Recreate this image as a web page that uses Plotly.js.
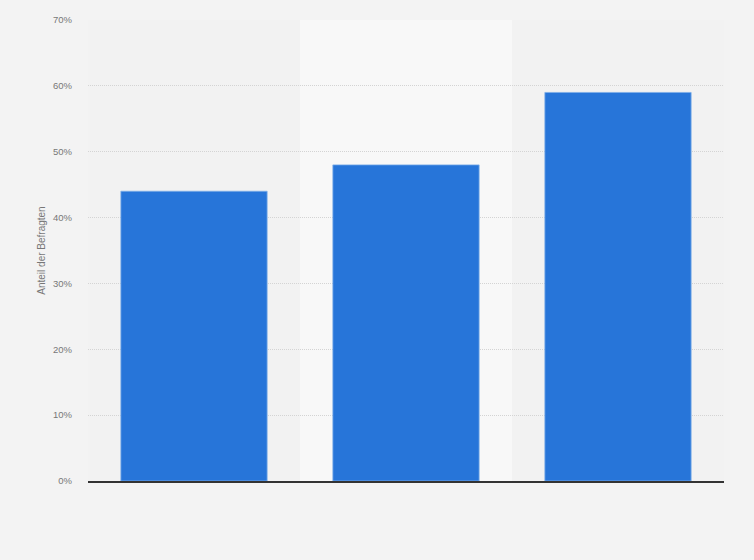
<!DOCTYPE html>
<html>
<head>
<meta charset="utf-8">
<script src="https://cdn.plot.ly/plotly-3.0.1.min.js"></script>
<style>
  html, body { margin: 0; padding: 0; background: #f3f3f3; }
  #chart { width: 754px; height: 560px; }
</style>
</head>
<body>
<div id="chart"></div>
<script>
'use strict';

// categories are not labelled in the picture, so the tick labels stay hidden
var categories = ['Gruppe 1', 'Gruppe 2', 'Gruppe 3'];
var shares = [44, 48, 59];
var yTicks = [0, 10, 20, 30, 40, 50, 60, 70];
var yTickLabels = ['0%', '10%', '20%', '30%', '40%', '50%', '60%', '70%'];

var trace = {
    type: 'bar',
    x: categories,
    y: shares,
    width: 0.69,
    marker: {
        color: '#2775d9',
        line: { color: '#7eaee9', width: 0.8 }
    },
    hoverinfo: 'y'
};

// lighter band behind every second category
var bands = [];
categories.forEach(function(c, i) {
    if (i % 2 === 1) {
        bands.push({
            type: 'rect', layer: 'below',
            xref: 'x', yref: 'paper',
            x0: i - 0.5, x1: i + 0.5, y0: 0, y1: 1,
            fillcolor: '#f8f8f8', line: { width: 0 }
        });
    }
});

var layout = {
    width: 754,
    height: 560,
    margin: { l: 88, r: 30, t: 20, b: 79 },
    paper_bgcolor: '#f3f3f3',
    plot_bgcolor: '#f2f2f2',
    showlegend: false,
    bargap: 0.31,
    shapes: bands,
    font: { family: 'Arial, "Liberation Sans", sans-serif', color: '#666' },
    xaxis: {
        type: 'category',
        showticklabels: false,
        showgrid: false,
        zeroline: false,
        showline: true,
        linecolor: '#333',
        linewidth: 1.5,
        ticks: '',
        range: [-0.5, categories.length - 0.5]
    },
    yaxis: {
        range: [0, 70],
        tickvals: yTicks,
        ticktext: yTickLabels,
        tickfont: { size: 9.5, color: '#777' },
        ticks: '',
        ticklabelstandoff: 15,
        showgrid: true,
        gridcolor: '#d4d4d4',
        griddash: '1px,1px',
        gridwidth: 1,
        zeroline: false,
        showline: false,
        title: {
            text: 'Anteil der Befragten',
            font: { size: 10, color: '#777' },
            standoff: 5
        }
    }
};

Plotly.newPlot('chart', [trace], layout, { displayModeBar: false, staticPlot: true });
</script>
</body>
</html>
